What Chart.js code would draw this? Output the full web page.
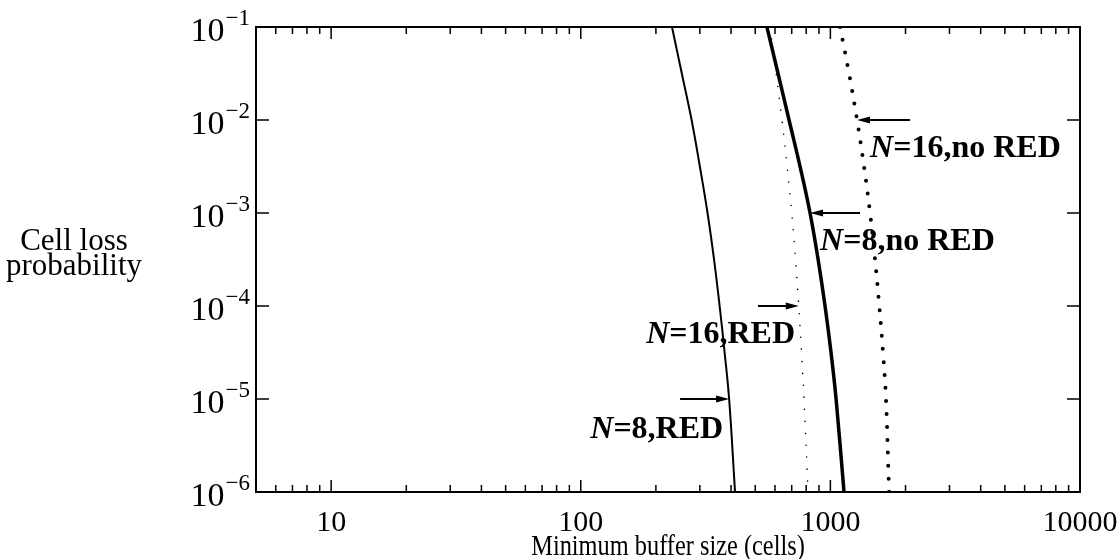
<!DOCTYPE html>
<html>
<head>
<meta charset="utf-8">
<script src="https://cdn.jsdelivr.net/npm/chart.js"></script>
<style>
    html, body { margin: 0; padding: 0; background: #fff; }
    #wrap { width: 1117px; height: 559px; }
</style>
</head>
<body>
<div id="wrap"><canvas id="lossChart"></canvas></div>
<script>
// Cell loss levels (y) and the buffer size read for each curve (x)
const lossLevels = [1e-1, 3.16e-2, 1e-2, 3.16e-3, 1e-3, 3.16e-4, 1e-4, 3.16e-5, 1e-5, 1e-6];
const n8Red    = [232, 254, 278, 300, 322, 342, 360, 377, 393, 415];
const n16Red   = [573, 606, 640, 671, 700, 725, 747, 766, 784, 814];
const n8NoRed  = [557, 617, 683, 756, 829, 893, 952, 1006, 1054, 1134];
const n16NoRed = [1093, 1188, 1279, 1364, 1442, 1510, 1570, 1625, 1670, 1718];

// Tick labels
const xTickValues = [10, 100, 1000, 10000];
const xTickLabels = ['10', '100', '1000', '10000'];
const yTickValues = [1e-1, 1e-2, 1e-3, 1e-4, 1e-5, 1e-6];
const yTickExponents = ['\u22121', '\u22122', '\u22123', '\u22124', '\u22125', '\u22126'];

// Arrows pointing at the curves (loss level, tail buffer, tip buffer)
const arrowLevels = [1e-2, 1e-3, 1e-4, 1e-5];
const arrowTails  = [2085, 1315, 513, 250];
const arrowTips   = [1279, 829, 747, 393];

// Curve labels
const labelNumbers = ['16', '8', '16', '8'];
const labelSuffix  = [',no RED', ',no RED', ',RED', ',RED'];
const labelX       = [1442, 909, 722, 372];
const labelY       = [4.9e-3, 4.88e-4, 4.88e-5, 4.65e-6];
const labelAlign   = ['left', 'left', 'right', 'right'];

const SERIF = '"Liberation Serif", "DejaVu Serif", serif';

function toPoints(xs) {
    return lossLevels.map((y, i) => ({ x: xs[i], y: y }));
}

// Frame, inward ticks, tick labels, titles, arrows and curve labels
const decorations = {
    id: 'decorations',
    afterDraw(chart) {
        const ctx = chart.ctx;
        const area = chart.chartArea;
        const xs = chart.scales.x;
        const ys = chart.scales.y;
        ctx.save();
        ctx.strokeStyle = '#000';
        ctx.fillStyle = '#000';

        // frame
        ctx.lineWidth = 2;
        ctx.strokeRect(area.left, area.top, area.right - area.left, area.bottom - area.top);

        // x ticks, major and minor, top and bottom
        ctx.lineWidth = 1.5;
        for (let d = 1; d <= 10000; d *= 10) {
            for (let m = 1; m <= 9; m++) {
                const v = d * m;
                if (v <= xs.min || v >= xs.max) continue;
                const px = xs.getPixelForValue(v);
                const len = m === 1 ? 12 : 7;
                ctx.beginPath();
                ctx.moveTo(px, area.bottom);
                ctx.lineTo(px, area.bottom - len);
                ctx.moveTo(px, area.top);
                ctx.lineTo(px, area.top + len);
                ctx.stroke();
            }
        }
        // y ticks, left and right
        yTickValues.forEach(v => {
            const py = ys.getPixelForValue(v);
            ctx.beginPath();
            ctx.moveTo(area.left, py);
            ctx.lineTo(area.left + 13, py);
            ctx.moveTo(area.right, py);
            ctx.lineTo(area.right - 13, py);
            ctx.stroke();
        });

        // x tick labels
        ctx.font = '30px ' + SERIF;
        ctx.textAlign = 'center';
        ctx.textBaseline = 'middle';
        xTickValues.forEach((v, i) => {
            ctx.fillText(xTickLabels[i], xs.getPixelForValue(v), area.bottom + 31);
        });

        // y tick labels with exponents
        yTickValues.forEach((v, i) => {
            const py = ys.getPixelForValue(v);
            ctx.font = '23px ' + SERIF;
            const ew = ctx.measureText(yTickExponents[i]).width;
            ctx.textAlign = 'left';
            ctx.textBaseline = 'alphabetic';
            const right = area.left - 6;
            ctx.fillText(yTickExponents[i], right - ew, py - 2);
            ctx.font = '34px ' + SERIF;
            ctx.textAlign = 'right';
            ctx.fillText('10', right - ew - 1, py + 14);
        });

        // axis titles
        ctx.textAlign = 'center';
        ctx.textBaseline = 'middle';
        ctx.font = '29px ' + SERIF;
        ctx.save();
        ctx.translate((area.left + area.right) / 2, area.bottom + 55);
        ctx.scale(0.84, 1);
        ctx.fillText('Minimum buffer size (cells)', 0, 0);
        ctx.restore();
        ctx.font = '31px ' + SERIF;
        ctx.fillText('Cell loss', 74, 242);
        ctx.fillText('probability', 74, 267);

        // arrows
        ctx.lineWidth = 2;
        arrowLevels.forEach((lv, i) => {
            const py = ys.getPixelForValue(lv);
            const x0 = xs.getPixelForValue(arrowTails[i]);
            const x1 = xs.getPixelForValue(arrowTips[i]);
            const dir = x1 > x0 ? 1 : -1;
            ctx.beginPath();
            ctx.moveTo(x0, py);
            ctx.lineTo(x1 - dir * 8, py);
            ctx.stroke();
            ctx.beginPath();
            ctx.moveTo(x1, py);
            ctx.lineTo(x1 - dir * 13, py - 3.5);
            ctx.lineTo(x1 - dir * 13, py + 3.5);
            ctx.closePath();
            ctx.fill();
        });

        // curve labels: italic N then the rest
        ctx.textBaseline = 'middle';
        ctx.textAlign = 'left';
        labelNumbers.forEach((num, i) => {
            const rest = '=' + num + labelSuffix[i];
            ctx.font = 'italic bold 32px ' + SERIF;
            const nw = ctx.measureText('N').width;
            ctx.font = 'bold 32px ' + SERIF;
            const rw = ctx.measureText(rest).width;
            const px = xs.getPixelForValue(labelX[i]);
            const py = ys.getPixelForValue(labelY[i]);
            const start = labelAlign[i] === 'left' ? px : px - nw - rw;
            ctx.font = 'italic bold 32px ' + SERIF;
            ctx.fillText('N', start, py);
            ctx.font = 'bold 32px ' + SERIF;
            ctx.fillText(rest, start + nw, py);
        });

        ctx.restore();
    }
};

const curveBase = {
    borderColor: '#000',
    pointRadius: 0,
    tension: 0.4
};

new Chart(document.getElementById('lossChart'), {
    type: 'line',
    data: {
        datasets: [
            Object.assign({}, curveBase, {
                label: 'N=8,RED',
                data: toPoints(n8Red),
                borderWidth: 2
            }),
            Object.assign({}, curveBase, {
                label: 'N=16,RED',
                data: toPoints(n16Red),
                borderWidth: 1.6,
                borderDash: [0, 12],
                borderCapStyle: 'round'
            }),
            Object.assign({}, curveBase, {
                label: 'N=8,no RED',
                data: toPoints(n8NoRed),
                borderWidth: 3.5
            }),
            Object.assign({}, curveBase, {
                label: 'N=16,no RED',
                data: toPoints(n16NoRed),
                borderWidth: 4,
                borderDash: [0, 13],
                borderCapStyle: 'round'
            })
        ]
    },
    options: {
        indexAxis: 'y',
        responsive: true,
        maintainAspectRatio: false,
        animation: false,
        layout: { padding: { left: 256, right: 37, top: 27, bottom: 67 } },
        scales: {
            x: { type: 'logarithmic', min: 5, max: 10000, display: false },
            y: { type: 'logarithmic', min: 1e-6, max: 1e-1, display: false }
        },
        plugins: {
            legend: { display: false },
            tooltip: { enabled: false }
        }
    },
    plugins: [decorations]
});
</script>
</body>
</html>
